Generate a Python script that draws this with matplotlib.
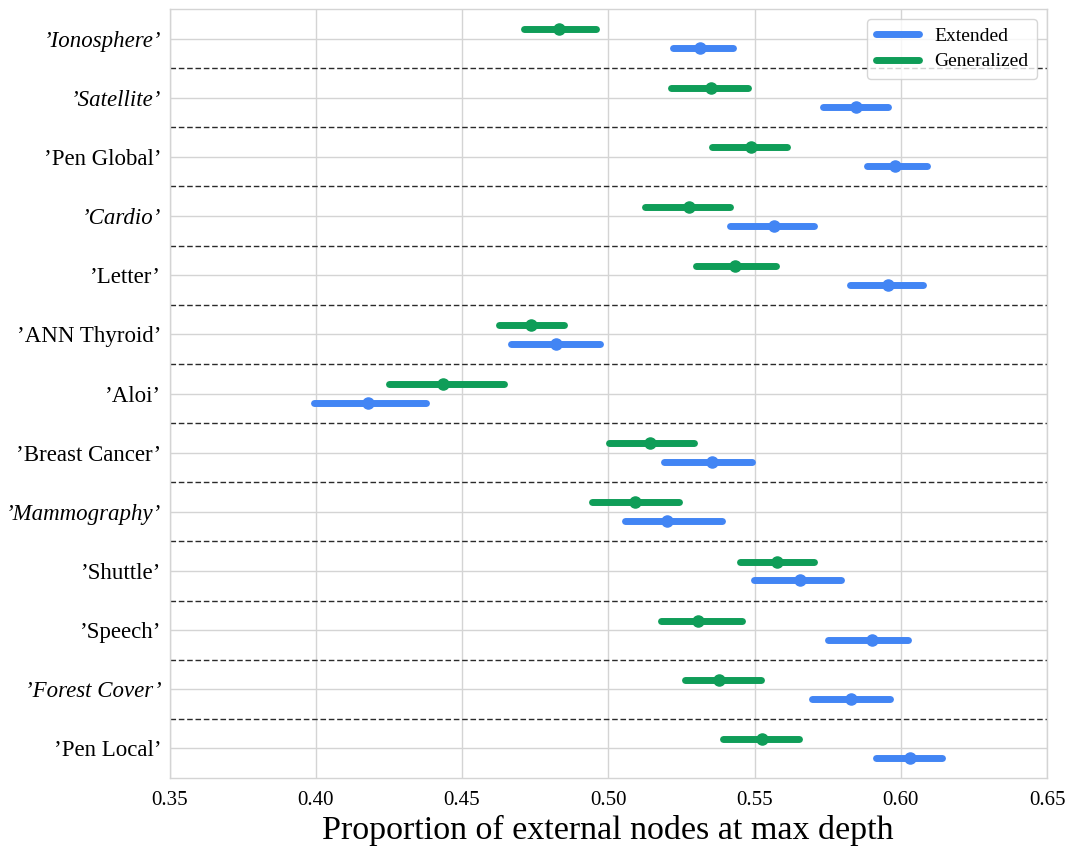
import matplotlib
matplotlib.use("Agg")
import matplotlib.pyplot as plt
import numpy as np

datasets = ["’Ionosphere’", "’Satellite’", "’Pen Global’", "’Cardio’", "’Letter’",
            "’ANN Thyroid’", "’Aloi’", "’Breast Cancer’", "’Mammography’", "’Shuttle’",
            "’Speech’", "’Forest Cover’", "’Pen Local’"]
italic = [True, True, False, True, False, False, False, False, True, False, False, True, False]

ext_mean = [0.5312, 0.5846, 0.5981, 0.5568, 0.5957, 0.4820, 0.4177, 0.5353, 0.5201, 0.5654, 0.5901, 0.5829, 0.6031]
ext_lo   = [0.5222, 0.5734, 0.5885, 0.5415, 0.5827, 0.4666, 0.3993, 0.5189, 0.5056, 0.5497, 0.5752, 0.5698, 0.5914]
ext_hi   = [0.5428, 0.5956, 0.6089, 0.5705, 0.6075, 0.4971, 0.4378, 0.5491, 0.5388, 0.5797, 0.6024, 0.5963, 0.6142]

gen_mean = [0.4831, 0.5352, 0.5488, 0.5275, 0.5432, 0.4735, 0.4435, 0.5141, 0.5090, 0.5576, 0.5308, 0.5380, 0.5525]
gen_lo   = [0.4711, 0.5213, 0.5353, 0.5125, 0.5299, 0.4627, 0.4252, 0.5002, 0.4944, 0.5451, 0.5180, 0.5262, 0.5391]
gen_hi   = [0.4957, 0.5478, 0.5610, 0.5417, 0.5572, 0.4848, 0.4643, 0.5293, 0.5241, 0.5704, 0.5458, 0.5522, 0.5651]

x_ticks = [0.35, 0.40, 0.45, 0.50, 0.55, 0.60, 0.65]

BLUE = "#4285F4"
GREEN = "#0F9D58"
serif = ["Liberation Serif", "DejaVu Serif"]
plt.rcParams["font.family"] = serif

fig = plt.figure(figsize=(10.73, 8.5), dpi=100)
ax = fig.add_axes([0.158, 0.0847, 0.8178, 0.9047])

y = np.arange(len(datasets))
off = 0.16

def draw(mean, lo, hi, color, dy, label):
    mean = np.asarray(mean); lo = np.asarray(lo); hi = np.asarray(hi)
    for i in range(len(mean)):
        ax.plot([lo[i], hi[i]], [y[i] + dy] * 2, color=color, lw=5,
                solid_capstyle="round", zorder=3)
    ax.plot(mean, y + dy, "o", color=color, ms=8, zorder=4, linestyle="none")
    ax.plot([], [], color=color, lw=5, solid_capstyle="round", label=label)

draw(ext_mean, ext_lo, ext_hi, BLUE, off, "Extended")
draw(gen_mean, gen_lo, gen_hi, GREEN, -off, "Generalized")

for i in range(len(datasets) - 1):
    ax.axhline(i + 0.5, color="#2a2a2a", lw=1.0, ls=(0, (4, 2)), zorder=2)

ax.set_xlim(0.35, 0.65)
ax.set_ylim(len(datasets) - 0.5, -0.5)
ax.set_xticks(x_ticks)
ax.set_xticklabels([f"{v:.2f}" for v in x_ticks], fontsize=15)
ax.set_yticks(y)
ax.set_yticklabels(datasets, fontsize=16.5)
for lab, it in zip(ax.get_yticklabels(), italic):
    if it:
        lab.set_style("italic")
ax.tick_params(axis="y", length=0, pad=6)
ax.tick_params(axis="x", length=0, pad=9)
ax.grid(True, color="#d4d4d4", lw=1.0, zorder=0)
ax.set_axisbelow(True)
for s in ax.spines.values():
    s.set_color("#d4d4d4")
    s.set_linewidth(1.0)

ax.set_xlabel("Proportion of external nodes at max depth", fontsize=24.5, labelpad=4)

leg = ax.legend(loc="upper right", fontsize=14, frameon=True, framealpha=0.8,
                edgecolor="#cccccc", handlelength=2.2, borderpad=0.45,
                labelspacing=0.4)

fig.savefig("out.png", dpi=100)
